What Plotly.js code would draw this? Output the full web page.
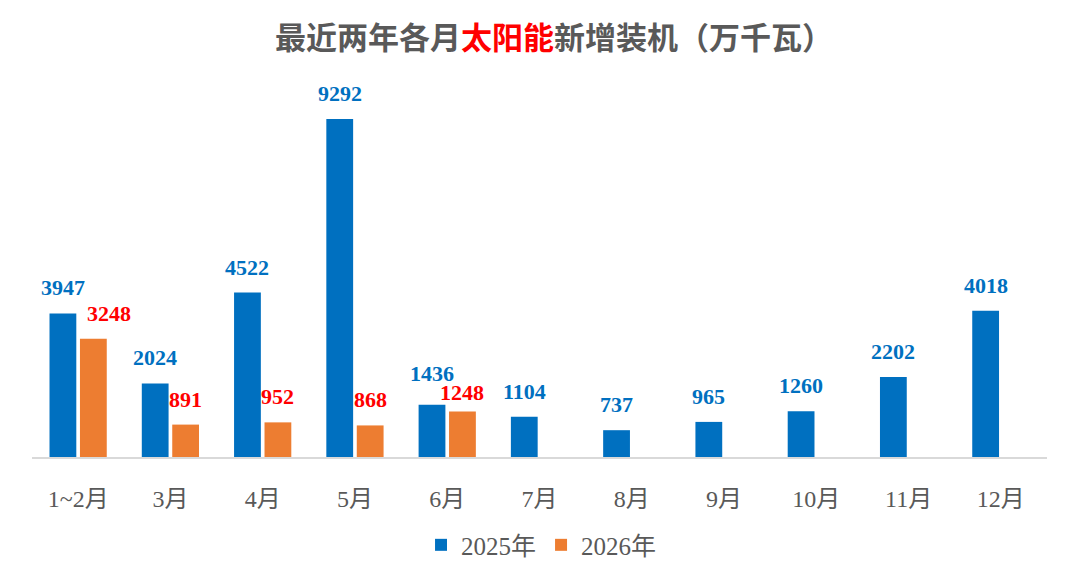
<!DOCTYPE html>
<html>
<head>
<meta charset="utf-8">
<script src="https://cdn.plot.ly/plotly-3.0.1.min.js"></script>
<style>
  html, body { margin: 0; padding: 0; background: #ffffff; }
  #chart { width: 1080px; height: 584px; }
</style>
</head>
<body>
<div id="chart"></div>
<script>
// Monthly new solar capacity (10,000 kW)
const months = ['1~2月', '3月', '4月', '5月', '6月', '7月', '8月', '9月', '10月', '11月', '12月'];
const values2025 = [3947, 2024, 4522, 9292, 1436, 1104, 737, 965, 1260, 2202, 4018];
const values2026 = [3248, 891, 952, 868, 1248, null, null, null, null, null, null];
const seriesNames = ['2025年', '2026年'];

const labelFont = 'Liberation Serif, Times New Roman, serif';
const cjkFont = 'Liberation Serif, Noto Sans CJK SC, serif';

const blue = '#0070C0';
const orange = '#ED7D31';
const red = '#FF0000';

const margin = { l: 32, r: 33, t: 90, b: 127 };
const yMax = 10090;
const bargap = 0.34;
const plotWidth = 1080 - margin.l - margin.r;
const plotHeight = 584 - margin.t - margin.b;
const pxPerUnit = plotHeight / yMax;
// half of one bar slot in pixels, used to put the value labels over each bar
const slotHalf = (plotWidth / months.length) * (1 - bargap) / 4;
const baseShift = 11;
const minLabelSep = 19;

const trace2025 = {
    x: months,
    y: values2025,
    name: seriesNames[0],
    type: 'bar',
    marker: { color: blue },
    hoverinfo: 'x+y+name'
};

const trace2026 = {
    x: months,
    y: values2026,
    name: seriesNames[1],
    type: 'bar',
    marker: { color: orange },
    hoverinfo: 'x+y+name'
};

// value labels above the bars
const annotations = [];
months.forEach((m, i) => {
    const a = values2025[i];
    const b = values2026[i];
    let shiftA = baseShift, shiftB = baseShift, nudge = 0;
    if (b !== null) {
        const dy = (a - b) * pxPerUnit;
        if (Math.abs(dy) < minLabelSep) {
            // labels of similar height would collide: spread them apart
            const extra = (minLabelSep - Math.abs(dy)) / 2;
            shiftA += extra;
            shiftB -= extra;
        }
        // a wide label sitting low beside a taller blue bar gets nudged right
        if (String(b).length > 3 && dy > minLabelSep) nudge = 16;
    }
    annotations.push({
        x: m, y: a, xref: 'x', yref: 'y',
        text: String(a), showarrow: false,
        xanchor: 'center', yanchor: 'bottom',
        xshift: -slotHalf, yshift: shiftA,
        font: { family: labelFont, size: 22, color: blue, weight: 'bold' }
    });
    if (b !== null) {
        annotations.push({
            x: m, y: b, xref: 'x', yref: 'y',
            text: String(b), showarrow: false,
            xanchor: 'center', yanchor: 'bottom',
            xshift: slotHalf + nudge, yshift: shiftB,
            font: { family: labelFont, size: 22, color: red, weight: 'bold' }
        });
    }
});

const layout = {
    width: 1080,
    height: 584,
    paper_bgcolor: '#ffffff',
    plot_bgcolor: '#ffffff',
    margin: margin,
    title: {
        text: '最近两年各月<span style="color:#FF0000">太阳能</span>新增装机（万千瓦）',
        x: 0.513,
        xanchor: 'center',
        y: 0.935,
        yanchor: 'middle',
        font: { family: 'Noto Sans CJK SC, sans-serif', size: 31, color: '#595959', weight: 'bold' }
    },
    barmode: 'group',
    bargap: bargap,
    bargroupgap: 0.12,
    xaxis: {
        type: 'category',
        showline: true,
        linecolor: '#D9D9D9',
        linewidth: 2,
        ticks: '',
        ticklabelstandoff: 19,
        tickfont: { family: cjkFont, size: 24, color: '#595959' },
        showgrid: false,
        zeroline: false
    },
    yaxis: {
        range: [0, yMax],
        visible: false,
        showgrid: false,
        zeroline: false
    },
    annotations: annotations,
    showlegend: true,
    legend: {
        orientation: 'h',
        x: 0.502,
        xanchor: 'center',
        y: -0.24,
        yanchor: 'middle',
        font: { family: cjkFont, size: 25, color: '#595959' },
        itemwidth: 30,
        traceorder: 'normal'
    }
};

Plotly.newPlot('chart', [trace2025, trace2026], layout, { displayModeBar: false, responsive: false });
</script>
</body>
</html>
